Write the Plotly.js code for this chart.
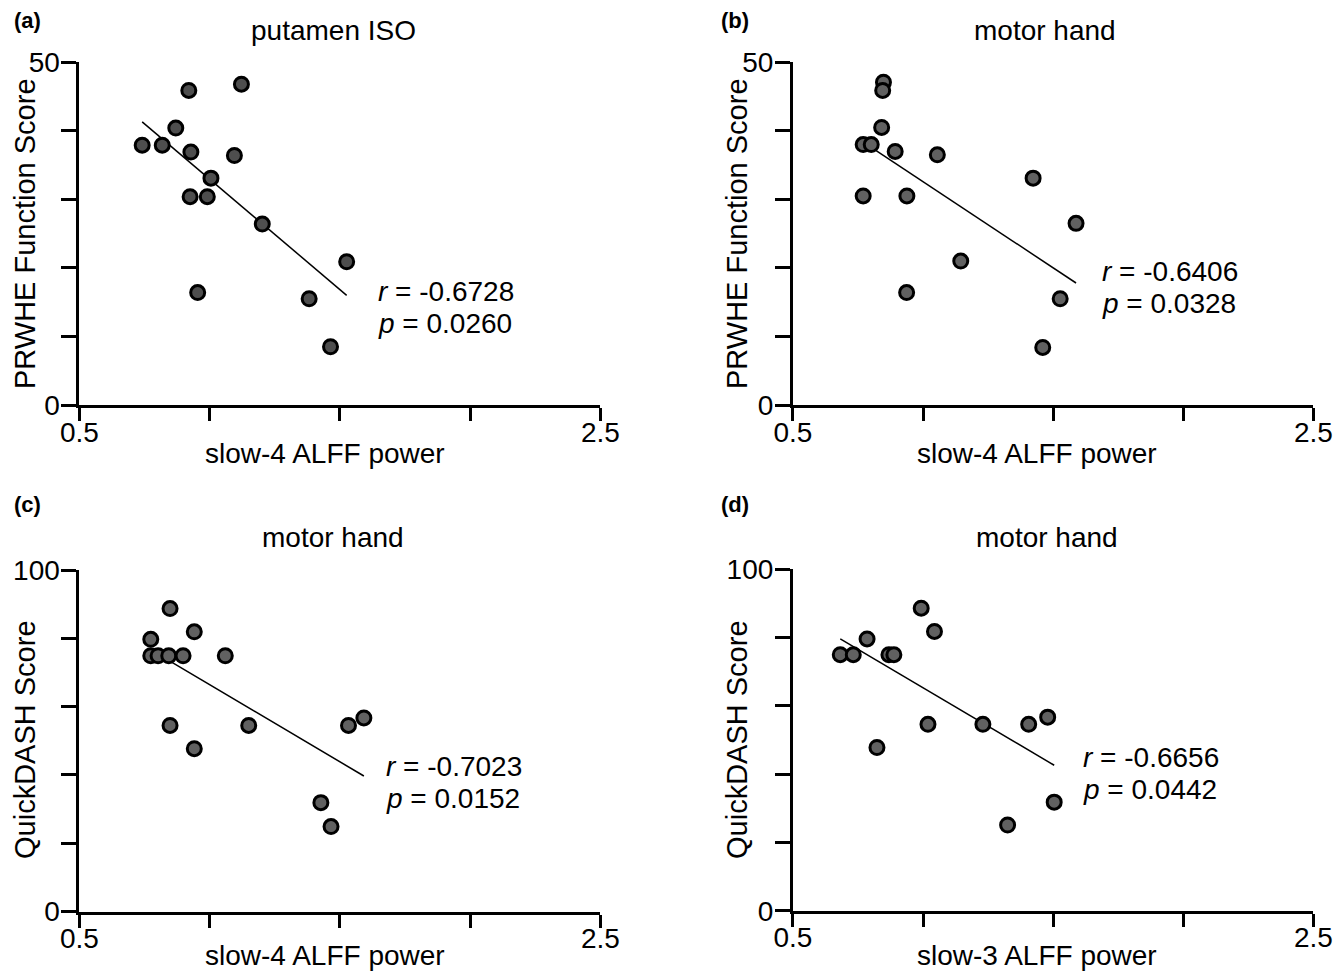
<!DOCTYPE html>
<html>
<head>
<meta charset="utf-8">
<script src="https://cdn.plot.ly/plotly-3.0.1.min.js"></script>
<style>html,body{margin:0;padding:0;background:#fff;}#chart{width:1341px;height:974px;}</style>
</head>
<body>
<div id="chart"></div>
<script>
// ---- data ----
const xTickVals = [0.5, 1.0, 1.5, 2.0, 2.5];
const xTickText = ['0.5', '', '', '', '2.5'];
const yTickValsPRWHE = [0, 10, 20, 30, 40, 50];
const yTickTextPRWHE = ['0', '', '', '', '', '50'];
const yTickValsQD = [0, 20, 40, 60, 80, 100];
const yTickTextQD = ['0', '', '', '', '', '100'];

const panelLabels = ['(a)', '(b)', '(c)', '(d)'];
const panelTitles = ['putamen ISO', 'motor hand', 'motor hand', 'motor hand'];
const xTitles = ['slow-4 ALFF power', 'slow-4 ALFF power', 'slow-4 ALFF power', 'slow-3 ALFF power'];
const yTitles = ['PRWHE Function Score', 'PRWHE Function Score', 'QuickDASH Score', 'QuickDASH Score'];
const rValues = ['-0.6728', '-0.6406', '-0.7023', '-0.6656'];
const pValues = ['0.0260', '0.0328', '0.0152', '0.0442'];

const aX = [0.741, 0.818, 0.870, 0.920, 0.928, 1.122, 1.095, 1.005, 0.925, 0.991, 1.202, 1.526, 0.954, 1.382, 1.464];
const aY = [37.9, 37.9, 40.4, 45.9, 36.9, 46.8, 36.4, 33.1, 30.4, 30.4, 26.4, 20.9, 16.4, 15.5, 8.5];
const aFitX = [0.741, 1.526];
const aFitY = [41.3, 16.0];

const bX = [0.848, 0.845, 0.841, 0.770, 0.801, 0.893, 1.055, 1.423, 0.770, 0.938, 1.588, 1.145, 0.937, 1.527, 1.460];
const bY = [47.1, 45.9, 40.5, 38.0, 38.0, 37.0, 36.5, 33.1, 30.5, 30.5, 26.5, 21.0, 16.4, 15.5, 8.4];
const bFitX = [0.801, 1.588];
const bFitY = [37.6, 17.8];

const cX = [0.848, 0.941, 0.774, 0.774, 0.802, 0.843, 0.898, 1.060, 0.848, 1.150, 1.533, 1.592, 0.941, 1.427, 1.466];
const cY = [88.7, 81.9, 79.7, 74.9, 74.9, 74.9, 74.9, 74.9, 54.5, 54.5, 54.5, 56.7, 47.7, 31.9, 24.9];
const cFitX = [0.781, 1.592];
const cFitY = [76.3, 39.7];

const dX = [0.993, 1.044, 0.785, 0.682, 0.732, 0.869, 0.888, 1.019, 1.230, 1.406, 1.479, 0.823, 1.504, 1.325];
const dY = [88.6, 81.8, 79.6, 75.0, 75.0, 75.0, 75.0, 54.6, 54.6, 54.6, 56.7, 47.8, 31.8, 25.1];
const dFitX = [0.682, 1.504];
const dFitY = [79.6, 42.6];

// ---- layout helpers (pixel -> paper) ----
const W = 1341, H = 974;
const px = x => x / W;
const py = y => 1 - y / H;
const FONT = 'Liberation Sans, Arial, Helvetica, sans-serif';
const FS = 28;

const panels = [
  {xs: aX, ys: aY, fx: aFitX, fy: aFitY, fill: '#4e4e4e', xd: [79.4, 600.4], yd: [62.3, 405], yr: [0, 50], tv: yTickValsPRWHE, tt: yTickTextPRWHE,
   lab: [12, 21], title: [333, 31], xt: [325, 453], yt: [25, 234], rp: [376, 291, 323]},
  {xs: bX, ys: bY, fx: bFitX, fy: bFitY, fill: '#616161', xd: [792.9, 1313.4], yd: [62.3, 405], yr: [0, 50], tv: yTickValsPRWHE, tt: yTickTextPRWHE,
   lab: [719, 21], title: [1045, 31], xt: [1037, 453], yt: [737, 234], rp: [1100, 272, 304]},
  {xs: cX, ys: cY, fx: cFitX, fy: cFitY, fill: '#616161', xd: [79.4, 600.4], yd: [570, 911.6], yr: [0, 100], tv: yTickValsQD, tt: yTickTextQD,
   lab: [12, 504], title: [333, 537], xt: [325, 955], yt: [25, 740], rp: [384, 766, 798]},
  {xs: dX, ys: dY, fx: dFitX, fy: dFitY, fill: '#616161', xd: [792.9, 1313.4], yd: [569.3, 910.7], yr: [0, 100], tv: yTickValsQD, tt: yTickTextQD,
   lab: [719, 504], title: [1047, 537], xt: [1037, 955], yt: [737, 740], rp: [1081, 757, 789]}
];

const traces = [];
const layout = {
  width: W, height: H,
  margin: {l: 0, r: 0, t: 0, b: 0},
  paper_bgcolor: '#ffffff', plot_bgcolor: '#ffffff',
  showlegend: false,
  font: {family: FONT, color: '#000', size: FS},
  annotations: []
};

panels.forEach((p, i) => {
  const n = i + 1;
  const xa = 'x' + (n === 1 ? '' : n);
  const ya = 'y' + (n === 1 ? '' : n);
  traces.push({
    type: 'scatter', mode: 'lines', x: p.fx, y: p.fy, xaxis: xa, yaxis: ya,
    line: {color: '#000', width: 1.5}, hoverinfo: 'skip'
  });
  traces.push({
    type: 'scatter', mode: 'markers', x: p.xs, y: p.ys, xaxis: xa, yaxis: ya,
    marker: {size: 14, color: p.fill, line: {color: '#000', width: 3}},
    cliponaxis: false
  });
  const axCommon = {
    showgrid: false, zeroline: false, showline: true, linecolor: '#000', linewidth: 3,
    ticks: 'outside', ticklen: 13, tickwidth: 3, tickcolor: '#000',
    tickfont: {family: FONT, size: FS, color: '#000'}, fixedrange: true
  };
  layout['xaxis' + (n === 1 ? '' : n)] = Object.assign({}, axCommon, {
    domain: [px(p.xd[0]), px(p.xd[1])], anchor: ya, range: [0.5, 2.5],
    tickmode: 'array', tickvals: xTickVals, ticktext: xTickText, ticklabelstandoff: -13
  });
  layout['yaxis' + (n === 1 ? '' : n)] = Object.assign({}, axCommon, {
    domain: [py(p.yd[1]), py(p.yd[0])], anchor: xa, range: p.yr,
    tickmode: 'array', tickvals: p.tv, ticktext: p.tt, ticklen: 15, ticklabelstandoff: -4
  });
  const A = layout.annotations;
  A.push({xref: 'paper', yref: 'paper', x: px(p.lab[0]), y: py(p.lab[1]), xanchor: 'left', yanchor: 'middle',
          text: '<b>' + panelLabels[i] + '</b>', showarrow: false, font: {family: FONT, size: 22, color: '#000'}});
  A.push({xref: 'paper', yref: 'paper', x: px(p.title[0]), y: py(p.title[1]), xanchor: 'center', yanchor: 'middle',
          text: panelTitles[i], showarrow: false, font: {family: FONT, size: FS, color: '#000'}});
  A.push({xref: 'paper', yref: 'paper', x: px(p.xt[0]), y: py(p.xt[1]), xanchor: 'center', yanchor: 'middle',
          text: xTitles[i], showarrow: false, font: {family: FONT, size: FS, color: '#000'}});
  A.push({xref: 'paper', yref: 'paper', x: px(p.yt[0]), y: py(p.yt[1]), xanchor: 'center', yanchor: 'middle',
          text: yTitles[i], textangle: -90, showarrow: false, font: {family: FONT, size: 29, color: '#000'}});
  A.push({xref: 'paper', yref: 'paper', x: px(p.rp[0]), y: py(p.rp[1]), xanchor: 'left', yanchor: 'middle',
          text: '<i>r</i> = ' + rValues[i], showarrow: false, font: {family: FONT, size: FS, color: '#000'}});
  A.push({xref: 'paper', yref: 'paper', x: px(p.rp[0]), y: py(p.rp[2]), xanchor: 'left', yanchor: 'middle',
          text: '<i>p</i> = ' + pValues[i], showarrow: false, font: {family: FONT, size: FS, color: '#000'}});
});

Plotly.newPlot('chart', traces, layout, {staticPlot: true, displayModeBar: false});
</script>
</body>
</html>
